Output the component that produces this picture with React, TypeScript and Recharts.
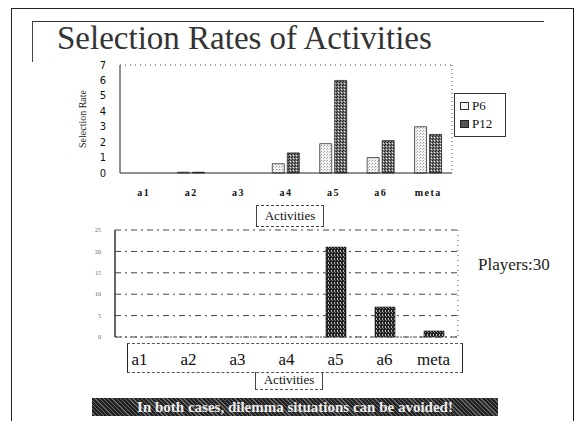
import { Bar, BarChart, CartesianGrid, ReferenceLine, XAxis, YAxis } from 'recharts';

const categories = ['a1', 'a2', 'a3', 'a4', 'a5', 'a6', 'meta'];
const p6Rates = [0, 0.05, 0, 0.6, 1.9, 1.0, 3.0];
const p12Rates = [0, 0.05, 0, 1.3, 6.0, 2.1, 2.5];
const upperTicks = [0, 1, 2, 3, 4, 5, 6, 7];

const players30Rates = [0, 0, 0, 0, 21, 7, 1.4];
const lowerTicks = [0, 5, 10, 15, 20, 25];

const upperData = categories.map((name, i) => ({ name, P6: p6Rates[i], P12: p12Rates[i] }));
const lowerData = categories.map((name, i) => ({ name, value: players30Rates[i] }));

const serif = '"Liberation Serif", "DejaVu Serif", serif';

// dotted right-hand border of the plot area
const rightEdge = ({ offset }: any) => [offset.left + offset.width];

function UpperLegend() {
  return (
    <div
      style={{
        border: '1px solid #333',
        background: '#fff',
        padding: '3px 5px',
        fontFamily: serif,
        fontSize: 13,
        lineHeight: '18px',
        color: '#111',
        width: 40,
      }}
    >
      <div style={{ display: 'flex', alignItems: 'center', gap: 3 }}>
        <svg width={9} height={8}>
          <rect x={0.5} y={0.5} width={8} height={7} fill="#f4f4f4" stroke="#333" />
        </svg>
        P6
      </div>
      <div style={{ display: 'flex', alignItems: 'center', gap: 3 }}>
        <svg width={9} height={8}>
          <rect x={0.5} y={0.5} width={8} height={7} fill="#555" stroke="#222" />
        </svg>
        P12
      </div>
    </div>
  );
}

export default function App() {
  return (
    <div
      style={{
        position: 'absolute',
        left: 0,
        top: 0,
        width: 574,
        height: 421,
        background: '#fff',
        overflow: 'hidden',
        fontFamily: serif,
      }}
    >
      {/* slide frame */}
      <div style={{ position: 'absolute', left: 11, top: 8, width: 561, height: 430, borderLeft: '1.5px solid #222', borderTop: '1.5px solid #222', borderRight: '2px solid #111' }} />
      <div style={{ position: 'absolute', left: 32, top: 21, width: 511, height: 40, borderLeft: '1px solid #444', borderTop: '1.5px solid #333' }} />
      <div style={{ position: 'absolute', left: 57, top: 20, fontSize: 33, color: '#333', whiteSpace: 'nowrap' }}>
        Selection Rates of Activities
      </div>

      {/* upper chart */}
      <div style={{ position: 'absolute', left: 60, top: 55 }}>
        <BarChart
          width={400}
          height={150}
          data={upperData}
          margin={{ top: 10, right: 8, left: 0, bottom: 0 }}
          barSize={12}
          barGap={3}
        >
          <defs>
            <pattern id="p6Fill" width="3" height="3" patternUnits="userSpaceOnUse">
              <rect width="3" height="3" fill="#f2f2f2" />
              <rect x="0" y="0" width="1" height="1" fill="#999" />
              <rect x="2" y="1" width="1" height="1" fill="#bbb" />
            </pattern>
            <pattern id="p12Fill" width="3" height="3" patternUnits="userSpaceOnUse">
              <rect width="3" height="3" fill="#777" />
              <rect x="0" y="0" width="1" height="1" fill="#111" />
              <rect x="2" y="1" width="1" height="1" fill="#eee" />
              <rect x="1" y="2" width="1" height="1" fill="#222" />
            </pattern>
          </defs>
          <CartesianGrid horizontal={false} verticalCoordinatesGenerator={rightEdge} stroke="#444" strokeDasharray="1 3" />
          <XAxis
            dataKey="name"
            axisLine={{ stroke: '#222', strokeWidth: 1 }}
            tickLine={false}
            tickMargin={10}
            height={32}
            tick={{ fontFamily: serif, fontSize: 10, fill: '#111', letterSpacing: 1.5, fontWeight: 'bold' }}
          />
          <YAxis
            domain={[0, 7]}
            ticks={upperTicks}
            interval={0}
            width={60}
            axisLine={{ stroke: '#222', strokeWidth: 1 }}
            tickLine={false}
            tickMargin={8}
            tick={{ fontFamily: '"DejaVu Sans", sans-serif', fontSize: 10, fill: '#111' }}
            label={{
              value: 'Selection Rate',
              angle: -90,
              position: 'insideLeft',
              offset: 22,
              style: { fontFamily: serif, fontSize: 10, fill: '#222', textAnchor: 'middle' },
            }}
          />
          <ReferenceLine y={7} stroke="#444" strokeDasharray="1 4" />
          <Bar dataKey="P6" fill="url(#p6Fill)" stroke="#333" strokeWidth={0.8} isAnimationActive={false} />
          <Bar dataKey="P12" fill="url(#p12Fill)" stroke="#222" strokeWidth={0.8} isAnimationActive={false} />
        </BarChart>
      </div>
      <div style={{ position: 'absolute', left: 454, top: 93 }}>
        <UpperLegend />
      </div>

      {/* middle axis title */}
      <div style={{ position: 'absolute', left: 256, top: 205, width: 66, height: 20, border: '1px dashed #444', borderLeftStyle: 'solid', borderRightStyle: 'solid', fontSize: 13, lineHeight: '20px', textAlign: 'center', color: '#111' }}>
        Activities
      </div>

      {/* lower chart */}
      <div style={{ position: 'absolute', left: 75, top: 222 }}>
        <BarChart
          width={390}
          height={150}
          data={lowerData}
          margin={{ top: 8, right: 7, left: 0, bottom: 0 }}
          barSize={20}
        >
          <defs>
            <pattern id="p30Fill" width="3" height="4" patternUnits="userSpaceOnUse">
              <rect width="3" height="4" fill="#222" />
              <rect x="1" y="0" width="1" height="2" fill="#bbb" />
              <rect x="2" y="2" width="1" height="1" fill="#888" />
            </pattern>
          </defs>
          <CartesianGrid vertical={false} stroke="#444" strokeDasharray="6 4 2 4" />
          <CartesianGrid horizontal={false} verticalCoordinatesGenerator={rightEdge} stroke="#555" strokeDasharray="1 4" />
          <XAxis
            dataKey="name"
            axisLine={{ stroke: '#555', strokeDasharray: '2 3' }}
            tickLine={false}
            tickSize={6}
            tickMargin={10}
            height={35}
            tick={{ fontFamily: serif, fontSize: 17, fill: '#111' }}
          />
          <YAxis
            domain={[0, 25]}
            ticks={lowerTicks}
            interval={0}
            width={40}
            axisLine={{ stroke: '#333', strokeWidth: 1.5 }}
            tickLine={false}
            tickMargin={8}
            tick={{ fontFamily: serif, fontSize: 6, fill: '#666' }}
          />
          <Bar dataKey="value" fill="url(#p30Fill)" stroke="#111" strokeWidth={0.6} isAnimationActive={false} />
        </BarChart>
      </div>
      <div style={{ position: 'absolute', left: 127, top: 343, width: 334, height: 28, borderLeft: '1px solid #222', borderRight: '1px solid #222', borderTop: '1px dashed #555', borderBottom: '1px dashed #555' }} />
      <div style={{ position: 'absolute', left: 255, top: 372, width: 66, height: 17, borderLeft: '1px solid #444', borderRight: '1px solid #444', borderBottom: '1px dashed #555', fontSize: 13, lineHeight: '16px', textAlign: 'center', color: '#111' }}>
        Activities
      </div>
      <div style={{ position: 'absolute', left: 478, top: 255, fontSize: 17, color: '#222' }}>Players:30</div>

      {/* note banner */}
      <div
        style={{
          position: 'absolute',
          left: 92,
          top: 398,
          width: 406,
          height: 18,
          background: 'repeating-linear-gradient(45deg, #222 0px, #222 2px, #666 2px, #666 3px)',
          color: '#eee',
          fontSize: 15,
          fontWeight: 'bold',
          lineHeight: '18px',
          textAlign: 'center',
          whiteSpace: 'nowrap',
          overflow: 'hidden',
        }}
      >
        In both cases, dilemma situations can be avoided!
      </div>
    </div>
  );
}
